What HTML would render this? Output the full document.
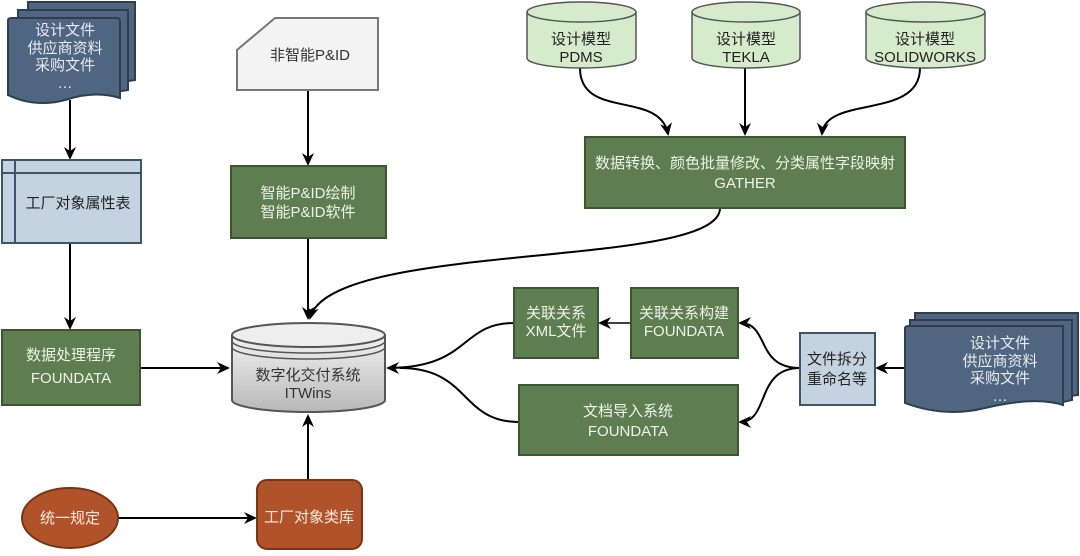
<!DOCTYPE html>
<html><head><meta charset="utf-8"><style>
body{margin:0;background:#fff}
svg text{font-family:"Liberation Sans","Noto Sans CJK SC",sans-serif;font-size:15px;text-anchor:middle}
</style></head><body>
<svg width="1080" height="551" viewBox="0 0 1080 551" xmlns="http://www.w3.org/2000/svg">
<defs>
<marker id="a" markerWidth="14" markerHeight="14" refX="11" refY="7" orient="auto" markerUnits="userSpaceOnUse"><path d="M0,1 L13,7 L0,13 L4,7 Z" fill="#000"/></marker>
<linearGradient id="g" x1="0" y1="0" x2="0" y2="1"><stop offset="0" stop-color="#f2f2f2"/><stop offset="1" stop-color="#b8b8b8"/></linearGradient>
</defs>
<g stroke="#000" stroke-width="2" fill="none">
<path d="M70,100 V158" marker-end="url(#a)"/>
<path d="M70,243 V328" marker-end="url(#a)"/>
<path d="M140,368 H228" marker-end="url(#a)"/>
<path d="M308,90 V164" marker-end="url(#a)"/>
<path d="M308,238 V318" marker-end="url(#a)"/>
<path d="M720,208 C720,270 330,240 310,318" marker-end="url(#a)"/>
<path d="M580,68 C580,120 660,90 668,134" marker-end="url(#a)"/>
<path d="M745,68 V134" marker-end="url(#a)"/>
<path d="M920,68 C920,120 825,95 822,134" marker-end="url(#a)"/>
<path d="M955,368 H877" marker-end="url(#a)"/>
<path d="M800,368 C755,368 770,323 740,323" marker-end="url(#a)"/>
<path d="M800,368 C755,368 770,422 740,422" marker-end="url(#a)"/>
<path d="M631,323 H600" stroke-width="1.5" marker-end="url(#a)"/>
<path d="M514,323 C460,323 470,368 388,368" marker-end="url(#a)"/>
<path d="M519,422 C460,422 470,368 400,368"/>
<path d="M118,518 H255" marker-end="url(#a)"/>
<path d="M308,480 V416" marker-end="url(#a)"/>
</g>
<g fill="#4f6580" stroke="#2e3e50" stroke-width="2">
<path d="M28,2 H135 V80 Q120,82 110,85 V10 H28 Z"/>
<path d="M18,10 H128 V90 Q115,92 105,94 V18 H18 Z"/>
<path d="M8,20 Q8,18 12,18 H117 Q120,18 120,22 V98 Q95,90 65,100 Q35,108 8,95 Z"/>
<path d="M915,313 H1078 V395 L1070,396 V320 H915 Z"/>
<path d="M910,320 H1072 V400 L1063,402 V328 H910 Z"/>
<path d="M905,328 Q905,326 909,326 H1063 V405 Q1035,396 985,408 Q945,418 905,403 Z"/>
</g>
<g fill="#e6ecf2">
<text x="65" y="35">设计文件</text><text x="65" y="53">供应商资料</text><text x="65" y="70">采购文件</text><text x="65" y="88">…</text>
<text x="1000" y="348">设计文件</text><text x="1000" y="366">供应商资料</text><text x="1000" y="383">采购文件</text><text x="1000" y="401">…</text>
</g>
<rect x="2" y="160" width="139" height="83" fill="#c5d3e0" stroke="#3e5468" stroke-width="2"/>
<path d="M15,160 V243 M2,173 H141" stroke="#3e5468" stroke-width="2"/>
<text x="78" y="208" fill="#222">工厂对象属性表</text>
<g fill="#5e7d50" stroke="#3a5530" stroke-width="2">
<rect x="2" y="330" width="138" height="75"/>
<rect x="231" y="166" width="155" height="72"/>
<rect x="585" y="137" width="320" height="71"/>
<rect x="514" y="288" width="84" height="70"/>
<rect x="631" y="288" width="107" height="70"/>
<rect x="519" y="385" width="219" height="70"/>
</g>
<g fill="#eef4e8">
<text x="71" y="360">数据处理程序</text><text x="71" y="383">FOUNDATA</text>
<text x="308" y="198">智能P&amp;ID绘制</text><text x="308" y="217">智能P&amp;ID软件</text>
<text x="745" y="168">数据转换、颜色批量修改、分类属性字段映射</text><text x="745" y="188">GATHER</text>
<text x="556" y="318">关联关系</text><text x="556" y="336">XML文件</text>
<text x="684" y="318">关联关系构建</text><text x="684" y="336">FOUNDATA</text>
<text x="628" y="416">文档导入系统</text><text x="628" y="436">FOUNDATA</text>
</g>
<path d="M275,18 H378 V90 H237 V50 Z" fill="#f3f3f3" stroke="#777" stroke-width="2"/>
<text x="310" y="60" fill="#333">非智能P&amp;ID</text>
<g fill="#d6ebcc" stroke="#555" stroke-width="1.5">
<path d="M527,12 V58 A54.5,10 0 0 0 636,58 V12"/><ellipse cx="581.5" cy="12" rx="54.5" ry="10"/>
<path d="M692,12 V58 A54,10 0 0 0 800,58 V12"/><ellipse cx="746" cy="12" rx="54" ry="10"/>
<path d="M866,12 V58 A59.5,10 0 0 0 985,58 V12"/><ellipse cx="925.5" cy="12" rx="59.5" ry="10"/>
</g>
<g fill="#222">
<text x="581" y="44">设计模型</text><text x="581" y="62">PDMS</text>
<text x="746" y="44">设计模型</text><text x="746" y="62">TEKLA</text>
<text x="925" y="44">设计模型</text><text x="925" y="62">SOLIDWORKS</text>
</g>
<path d="M232,335 V400 A76.5,12 0 0 0 385,400 V335" fill="url(#g)" stroke="#555" stroke-width="2"/>
<ellipse cx="308.5" cy="335" rx="76.5" ry="12" fill="#eee" stroke="#555" stroke-width="2"/>
<path d="M232,341 A76.5,12 0 0 0 385,341 M232,347 A76.5,12 0 0 0 385,347" fill="none" stroke="#555" stroke-width="1.5"/>
<text x="308" y="380" fill="#333">数字化交付系统</text><text x="308" y="398" fill="#333">ITWins</text>
<rect x="800" y="333" width="75" height="72" fill="#c5d3e0" stroke="#3e5468" stroke-width="2"/>
<text x="837" y="364" fill="#222">文件拆分</text><text x="837" y="384" fill="#222">重命名等</text>
<ellipse cx="70" cy="518" rx="48" ry="30" fill="#b0532a" stroke="#7a3515" stroke-width="2"/>
<text x="70" y="523" fill="#fbe9dd">统一规定</text>
<rect x="257" y="480" width="105" height="69" rx="10" fill="#b0532a" stroke="#7a3515" stroke-width="2"/>
<text x="309" y="522" fill="#fbe9dd">工厂对象类库</text>
</svg>
</body></html>
